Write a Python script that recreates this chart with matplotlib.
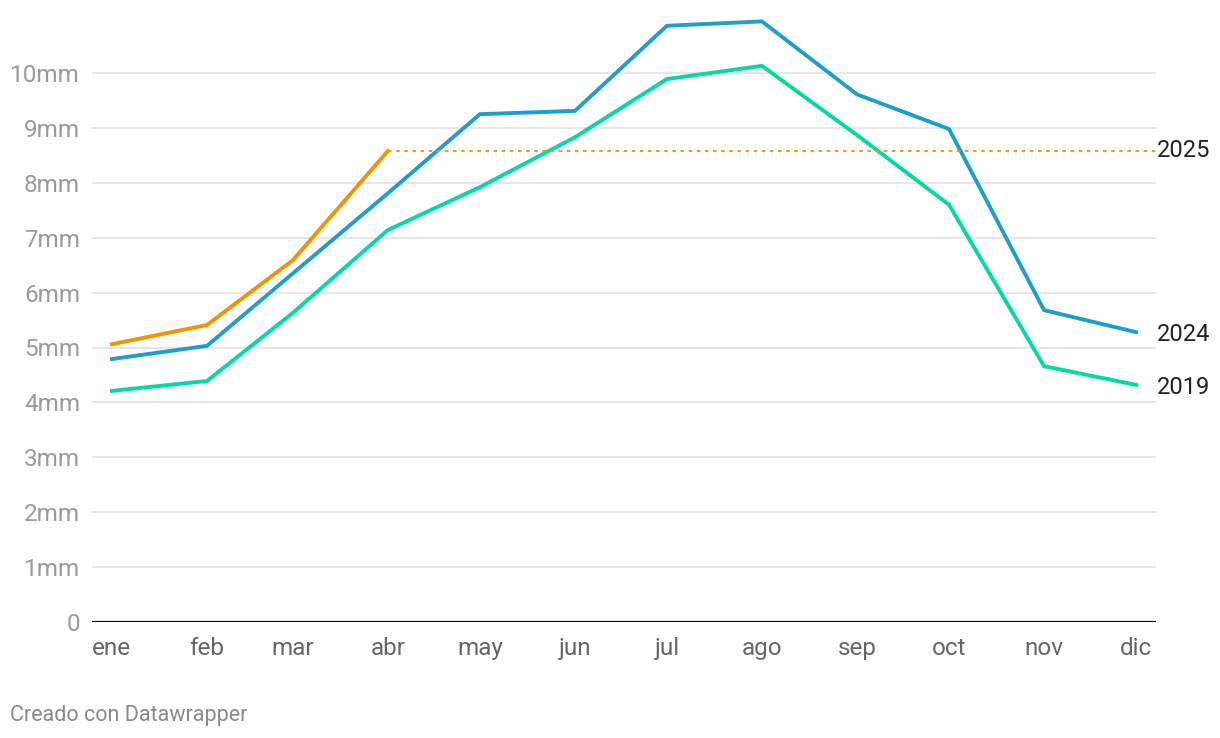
import matplotlib
matplotlib.use("Agg")
import matplotlib.pyplot as plt
import numpy as np
from matplotlib.transforms import offset_copy

months = ["ene", "feb", "mar", "abr", "may", "jun", "jul", "ago", "sep", "oct", "nov", "dic"]
month_dates = np.array([f"2019-{m:02d}-01" for m in range(1, 13)], dtype="datetime64[D]")
y2025 = [5.06, 5.41, 6.59, 8.58]
y2024 = [4.79, 5.03, 6.35, 7.81, 9.25, 9.31, 10.86, 10.94, 9.61, 8.98, 5.68, 5.28]
y2019 = [4.21, 4.39, 5.63, 7.14, 7.92, 8.83, 9.89, 10.13, 8.87, 7.60, 4.66, 4.32]
yticks = list(range(0, 11))
ytick_labels = ["0"] + [f"{v}mm" for v in range(1, 11)]

plt.rcParams['font.family'] = ['Roboto', 'DejaVu Sans']

W, H = 1220, 738
fig = plt.figure(figsize=(W / 100, H / 100), dpi=100)
left, right, bottom, top = 92, 1156, 622, 13
ax = fig.add_axes([left / W, (H - bottom) / H, (right - left) / W, (bottom - top) / H])

c2025 = "#f59200"
c2024 = "#1d9fcd"
c2019 = "#00dba3"

x = month_dates
pad_days = np.timedelta64(20 * 334 // 1024, "D") + np.timedelta64(0, "D")
xmin = x[0] - np.timedelta64(6, "h") * 26
xmax = x[-1] + np.timedelta64(6, "h") * 26

for v in yticks[1:]:
    ax.axhline(v, color="#e3e3e3", lw=1.2, zorder=1)
ax.axhline(0, color="#111111", lw=1.6, zorder=3)

ax.plot(x, y2019, color=c2019, lw=2.8, solid_joinstyle="miter", zorder=4)
ax.plot(x, y2024, color=c2024, lw=2.8, solid_joinstyle="miter", zorder=5)
ax.plot(x[:len(y2025)], y2025, color=c2025, lw=2.8, solid_joinstyle="miter", zorder=6)
ax.plot([x[len(y2025) - 1], xmax], [y2025[-1], y2025[-1]], color=c2025,
        lw=1.3, linestyle=(0, (2, 2.5)), zorder=6)

ax.set_xlim(xmin, xmax)
ax.set_ylim(0, (bottom - top) / 54.9)
ax.set_yticks(yticks)
ax.set_yticklabels(ytick_labels)
ax.set_xticks(x)
ax.set_xticklabels(months)
ax.tick_params(axis="y", length=0, pad=8.5, labelsize=17.5, labelcolor="#9a9a9a")
ax.tick_params(axis="x", length=0, pad=11, labelsize=17.5, labelcolor="#666666")
for s in ax.spines.values():
    s.set_visible(False)

tr = offset_copy(ax.get_yaxis_transform(), fig=fig, x=1, y=0, units="dots")
ax.text(1.0, y2025[-1], "2025", transform=tr, ha="left", va="center",
        fontsize=17, color="#222222")
ax.text(1.0, y2024[-1] - 0.05, "2024", transform=tr, ha="left", va="center",
        fontsize=17, color="#222222")
ax.text(1.0, y2019[-1] - 0.05, "2019", transform=tr, ha="left", va="center",
        fontsize=17, color="#222222")

fig.text(10 / W, 1 - 715 / H, "Creado con Datawrapper", ha="left", va="center",
         fontsize=15.5, color="#8a8a8a")

fig.savefig("out.png", dpi=100)
